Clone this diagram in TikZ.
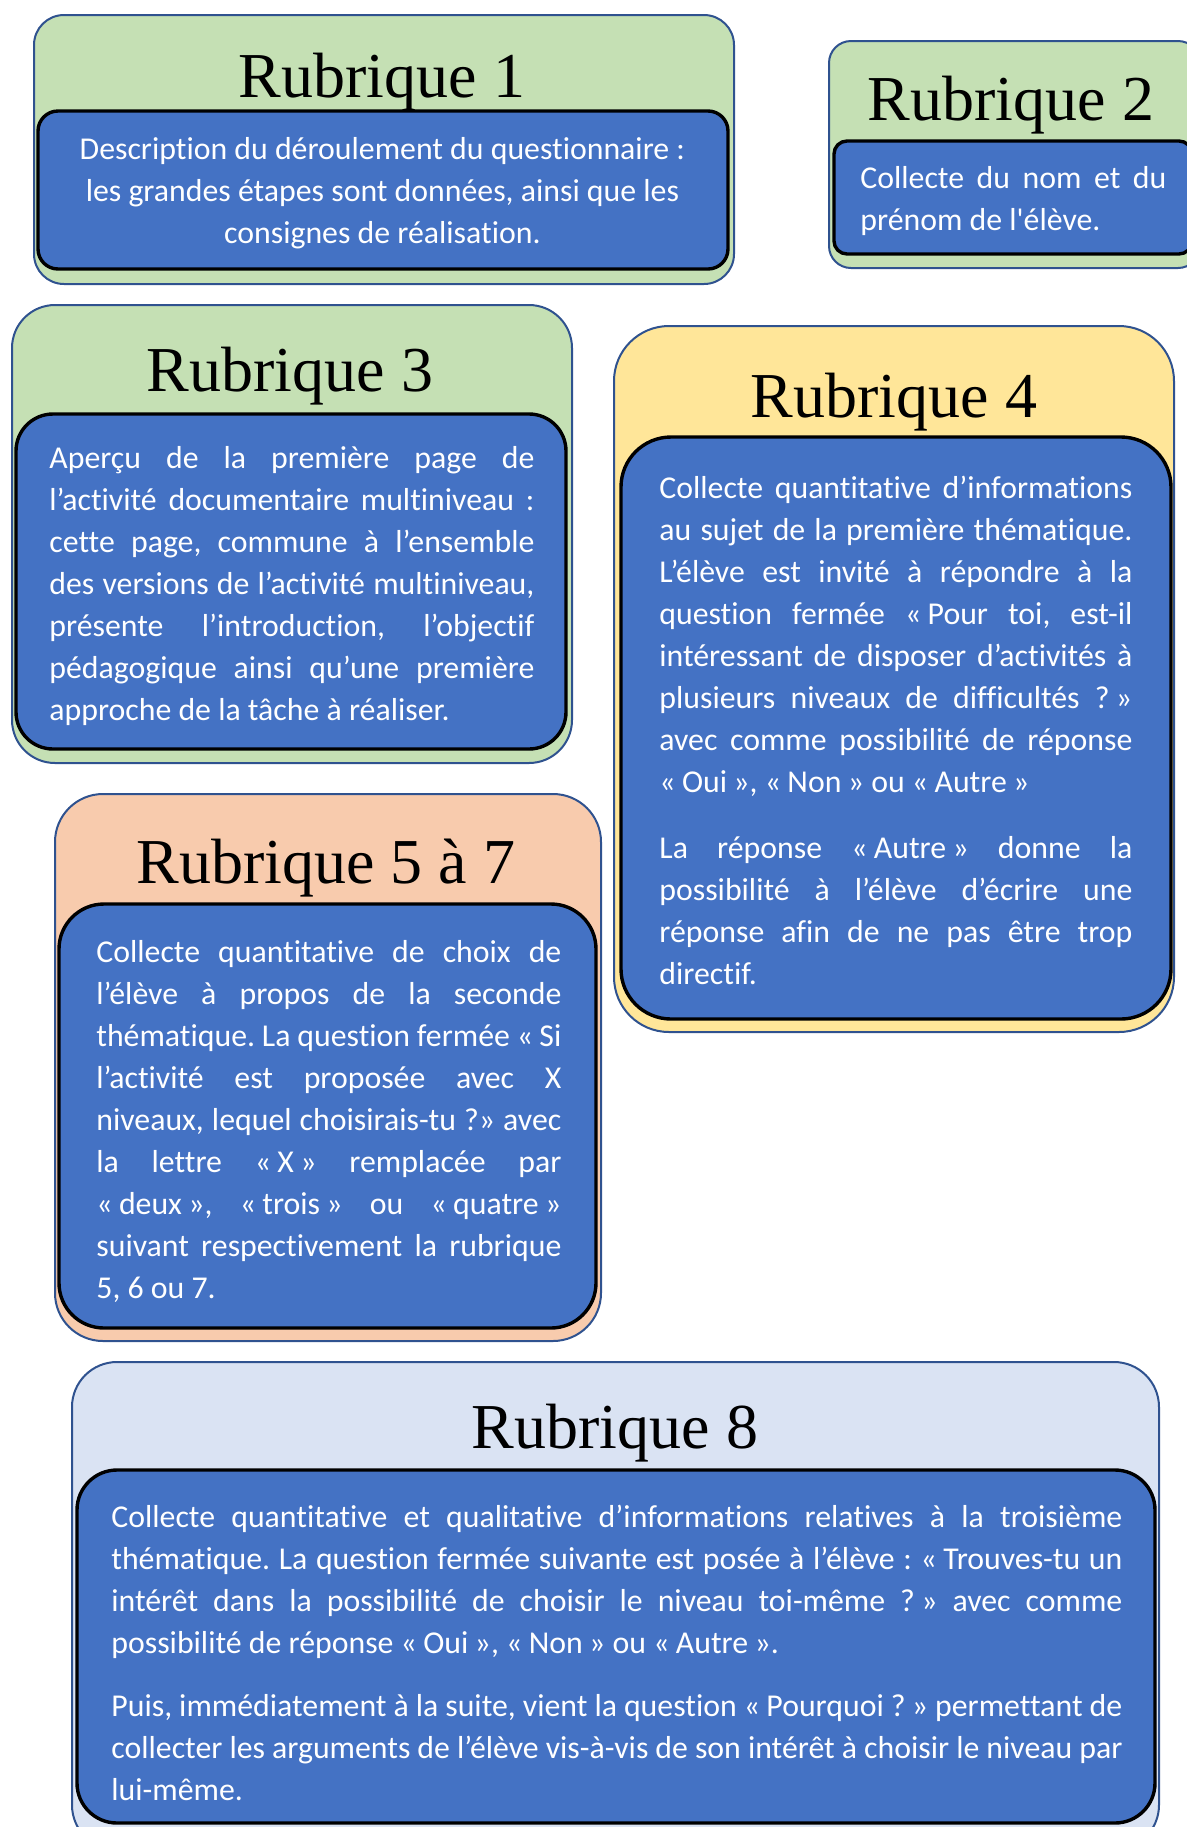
\documentclass[tikz,border=0pt]{standalone}
\usepackage{fontspec}
\newfontfamily\bodyfont{Carlito}[Ligatures=NoCommon]
\newfontfamily\titlefont{Liberation Serif}
\definecolor{boxgreen}{HTML}{C5E0B4}
\definecolor{boxyellow}{HTML}{FFE699}
\definecolor{boxpeach}{HTML}{F8CBAD}
\definecolor{boxlight}{HTML}{DAE3F3}
\definecolor{innerblue}{HTML}{4472C4}
\definecolor{outline}{HTML}{2F528F}
\newdimen\linew
\newcommand\Jl[1]{\hbox to \linew{#1}}
\newcommand\Ll[1]{\hbox{#1}}
\newcommand\Cl[1]{\hbox to \linew{\hfil #1\hfil}}
\newcommand\go{«\kern0.2em}
\newcommand\gf{\kern0.2em»}
\newcommand\bodytext[2]{\vtop{\linew=#1pt\bodyfont\fontsize{15.9pt}{21pt}\selectfont\frenchspacing\baselineskip=21pt\color{white}#2}}
\tikzset{
  outerbox/.style={draw=outline, line width=1pt},
  innerbox/.style={draw=black, line width=1.7pt, fill=innerblue},
  titletext/.style={anchor=base, inner sep=0pt, font=\titlefont\fontsize{32pt}{36pt}\selectfont},
  btext/.style={anchor=base west, inner sep=0pt}
}
\begin{document}
\begin{tikzpicture}[x=0.5pt, y=-0.5pt]
\useasboundingbox (0,0) rectangle (1187,1827);

% Rubrique 1
\draw[outerbox, fill=boxgreen, rounded corners=15pt] (34,15) rectangle (734,284);
\draw[innerbox, rounded corners=10pt] (38,111) rectangle (728,269);
\node[titletext] (r1) at (382,97) {Rubrique 1};
\node[btext] (t1) at (57,137) {\bodytext{325}{%
\Cl{Description du déroulement du questionnaire :}
\Cl{les grandes étapes sont données, ainsi que les}
\Cl{consignes de réalisation.}}};

% Rubrique 2
\draw[outerbox, fill=boxgreen, rounded corners=11pt] (829,41) rectangle (1200,268);
\draw[innerbox, rounded corners=6.5pt] (834,141) rectangle (1192,254);
\node[titletext] (r2) at (1011,120) {Rubrique 2};
\node[btext] (t2) at (860,166) {\bodytext{153}{%
\Jl{Collecte du nom et du}
\Ll{prénom de l'élève.}}};

% Rubrique 3
\draw[outerbox, fill=boxgreen, rounded corners=21.5pt] (12,305) rectangle (572,763);
\draw[innerbox, rounded corners=18.5pt] (16,414) rectangle (566,749);
\node[titletext] (r3) at (290,391) {Rubrique 3};
\node[btext] (t3) at (49,446) {\bodytext{242.5}{%
\Jl{Aperçu de la première page de}
\Jl{l’activité documentaire multiniveau :}
\Jl{cette page, commune à l’ensemble}
\Jl{des versions de l’activité multiniveau,}
\Jl{présente l’introduction, l’objectif}
\Jl{pédagogique ainsi qu’une première}
\Ll{approche de la tâche à réaliser.}}};

% Rubrique 4
\draw[outerbox, fill=boxyellow, rounded corners=27.5pt] (614,326) rectangle (1174,1032);
\draw[innerbox, rounded corners=25pt] (621,437) rectangle (1171,1019);
\node[titletext] (r4) at (894,417) {Rubrique 4};
\node[btext] (t4) at (659,476) {\bodytext{236.5}{%
\Jl{Collecte quantitative d’informations}
\Jl{au sujet de la première thématique.}
\Jl{L’élève est invité à répondre à la}
\Jl{question fermée \go Pour toi, est-il}
\Jl{intéressant de disposer d’activités à}
\Jl{plusieurs niveaux de difficultés ?\gf}
\Jl{avec comme possibilité de réponse}
\Ll{\go Oui\gf, \go Non\gf{} ou \go Autre\gf}
\vskip 12pt
\Jl{La réponse \go Autre\gf{} donne la}
\Jl{possibilité à l’élève d’écrire une}
\Jl{réponse afin de ne pas être trop}
\Ll{directif.}}};

% Rubrique 5 a 7
\draw[outerbox, fill=boxpeach, rounded corners=24pt] (55,794) rectangle (601,1341);
\draw[innerbox, rounded corners=22.5pt] (59,904) rectangle (596,1328);
\node[titletext] (r5) at (326,883) {Rubrique 5 à 7};
\node[btext] (t5) at (96,940) {\bodytext{232.5}{%
\Jl{Collecte quantitative de choix de}
\Jl{l’élève à propos de la seconde}
\Jl{thématique. La question fermée \go Si}
\Jl{l’activité est proposée avec X}
\Jl{niveaux, lequel choisirais-tu ?» avec}
\Jl{la lettre \go X\gf{} remplacée par}
\Jl{\go deux\gf, \go trois\gf{} ou \go quatre\gf}
\Jl{suivant respectivement la rubrique}
\Ll{5, 6 ou 7.}}};

% Rubrique 8
\draw[outerbox, fill=boxlight, rounded corners=22.5pt] (72,1362) rectangle (1159,1850);
\draw[innerbox, rounded corners=20pt] (77,1470) rectangle (1155,1823);
\node[titletext] (r8) at (615,1448) {Rubrique 8};
\node[btext] (t8) at (111,1505) {\bodytext{505.5}{%
\Jl{Collecte quantitative et qualitative d’informations relatives à la troisième}
\Jl{thématique. La question fermée suivante est posée à l’élève : \go Trouves-tu un}
\Jl{intérêt dans la possibilité de choisir le niveau toi-même ?\gf{} avec comme}
\Ll{possibilité de réponse \go Oui\gf, \go Non\gf{} ou \go Autre\gf.}
\vskip 10.5pt
\Jl{Puis, immédiatement à la suite, vient la question \go Pourquoi ?\gf{} permettant de}
\Jl{collecter les arguments de l’élève vis-à-vis de son intérêt à choisir le niveau par}
\Ll{lui-même.}}};
\end{tikzpicture}
\end{document}
